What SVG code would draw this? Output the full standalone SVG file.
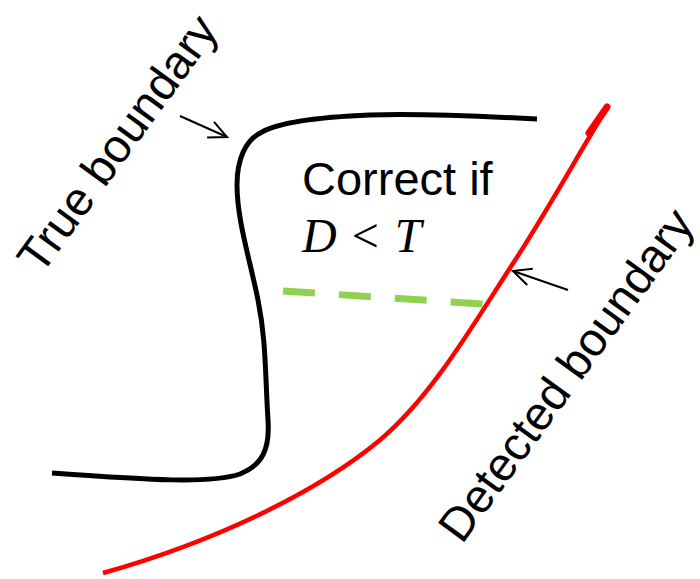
<svg xmlns="http://www.w3.org/2000/svg" width="700" height="579" viewBox="0 0 700 579">
<style>
.lbl{font-family:"Liberation Sans",Arial,sans-serif;font-size:47px;fill:#000}
.math{font-family:"Liberation Serif","Times New Roman",serif;font-size:48px;fill:#000}
.true{fill:none;stroke:#000;stroke-width:5;stroke-linecap:butt}
.det{fill:none;stroke:#FF0000;stroke-width:4.5}
.dist{fill:none;stroke:#92D050;stroke-width:7;stroke-dasharray:32 24}
.ptr{fill:none;stroke:#000;stroke-width:2}
</style>
<defs>
<marker id="head" markerUnits="userSpaceOnUse" viewBox="-22 -12 26 24" refX="0" refY="0" markerWidth="26" markerHeight="24" orient="auto" overflow="visible">
<path d="M-18,-8.5 L0,0 L-18,8.5" fill="none" stroke="#000" stroke-width="2"/>
</marker>
</defs>
<g id="true-boundary">
<path class="true" d="M537,119 C480,116 420,113 370,115 C320,117 280,122 262,132 C245,140 237,160 237,185 C237,220 250,260 258,300 C266,340 265,370 268,420 C270,450 262,465 240,474 C210,484 150,480 52,473"/>
</g>
<g id="detected-boundary">
<path class="det" d="M103,573 C220,540 320,490 380,440 C430,398 470,330 510,268 C545,215 575,160 608,106"/>
<path d="M589,133 L607,107" stroke="#FF0000" stroke-width="7" stroke-linecap="round"/>
</g>
<g id="distance">
<path class="dist" d="M283,291 L483,304"/>
</g>
<g id="connectors">
<path class="ptr" d="M180,116 L227,137" marker-end="url(#head)"/>
<path class="ptr" d="M568,290 L513,271" marker-end="url(#head)"/>
</g>
<g id="label-true">
<text class="lbl" x="41" y="276" transform="rotate(-54 41 276)">True boundary</text>
</g>
<g id="label-detected">
<text class="lbl" x="462" y="545" transform="rotate(-54 462 545)">Detected boundary</text>
</g>
<g id="label-correct">
<text class="lbl" x="302" y="195">Correct if</text>
<text class="math" x="302" y="252"><tspan font-style="italic">D</tspan><tspan dx="15">&lt;</tspan><tspan dx="16" font-style="italic">T</tspan></text>
</g>
</svg>
